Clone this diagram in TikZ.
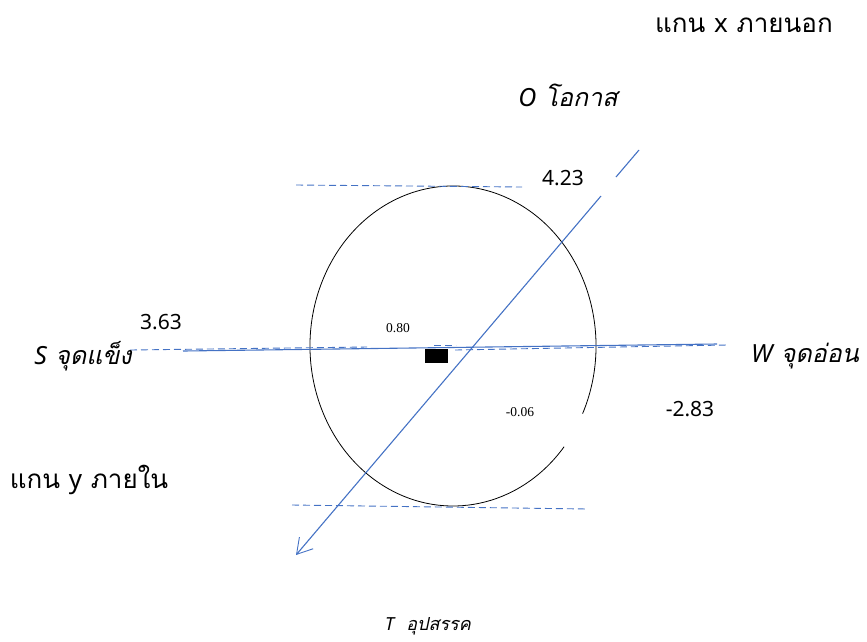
\documentclass[tikz,border=0pt]{standalone}
\usepackage{fontspec}
\newfontfamily\thaifont[Script=Thai]{Loma}
\newfontfamily\latinfont{Noto Sans}
\setmainfont{Liberation Serif}
\usetikzlibrary{
    arrows.meta,  % For arrow tips
    calc,         % For coordinate calculations
    positioning   % For label positioning
}
\definecolor{axisblue}{HTML}{4472C4}

\begin{document}
\begin{tikzpicture}[
    x=1pt, y=-1pt,
    >={Straight Barb[length=15pt,width=18pt,line width=0.9pt]},
    axisline/.style={axisblue, line width=1.1pt},  % Style for solid axes
    guide/.style={axisblue, line width=0.9pt, dash pattern=on 7pt off 4pt}, % dashed guides
    curve/.style={black, line width=0.8pt},
    thailabel/.style={font=\thaifont\fontsize{26}{30}\selectfont},
    thaiit/.style={font=\thaifont\itshape\fontsize{25}{30}\selectfont},
    numlabel/.style={font=\latinfont\fontsize{21}{24}\selectfont},
    smallnum/.style={font=\fontsize{13.5}{15}\selectfont}
    ]
    \useasboundingbox (0,0) rectangle (867,641);

    % Centre of the ellipse
    \coordinate (c0) at (453,346);

    % Open ellipse (gap at lower right)
    \draw[curve] ($(c0)+(25:{143} and {160})$) coordinate (arcS)
        arc[start angle=25, end angle=-321, x radius=143, y radius=160];

    % Dashed guide lines
    \coordinate (topL) at (296,185);
    \coordinate (topR) at (522,187);
    \coordinate (botL) at (292,505);
    \coordinate (botR) at (588,509);
    \coordinate (midL) at (130,350);
    \coordinate (midM) at (367,347);
    \coordinate (midA) at (455,350);
    \coordinate (midR) at (727,345);
    \coordinate (tickL) at (434,345);
    \coordinate (tickR) at (456,345);
    \draw[guide] (topL) -- (topR);
    \draw[guide] (botL) -- (botR);
    \draw[guide] (midL) -- (midM);
    \draw[guide] (midA) -- (midR);
    \draw[guide] (tickL) -- (tickR);

    % Horizontal axis (S -- W)
    \coordinate (sEnd) at (183,351);
    \coordinate (wEnd) at (717,344);
    \draw[axisline] (sEnd) -- (wEnd);

    % Diagonal axis (O -- T), broken near 4.23
    \coordinate (oTop) at (639,150);
    \coordinate (oBrk) at (616,177);
    \coordinate (oRes) at (601,196);
    \coordinate (tTip) at (296,555);
    \draw[axisline] (oTop) -- (oBrk);
    \draw[axisline, ->] (oRes) -- (tTip);

    % Black marker
    \fill[black] (425,349) rectangle (448,363);

    % Labels
    \node[thailabel] (xaxis) at (744,25) {แกน {\latinfont x} ภายนอก};
    \node[thaiit] (opp) at (568,95) {{\latinfont\itshape O} โอกาส};
    \node[numlabel] (vO) at (563,178) {4.23};
    \node[numlabel] (vS) at (161,322) {3.63};
    \node[thaiit] (str) at (83,356) {{\latinfont\itshape S} จุดแข็ง};
    \node[smallnum] (vC) at (398,328) {0.80};
    \node[thaiit] (wk) at (805,356) {{\latinfont\itshape W} จุดอ่อน};
    \node[numlabel] (vW) at (690,409) {-2.83};
    \node[smallnum] (vT) at (520,412) {-0.06};
    \node[thailabel] (yaxis) at (89,480) {แกน {\latinfont y} ภายใน};
    \node[thaiit, font=\thaifont\itshape\fontsize{18}{20}\selectfont] (thr) at (428,626) {{\latinfont\itshape T}\ \ อุปสรรค};

\end{tikzpicture}
\end{document}
